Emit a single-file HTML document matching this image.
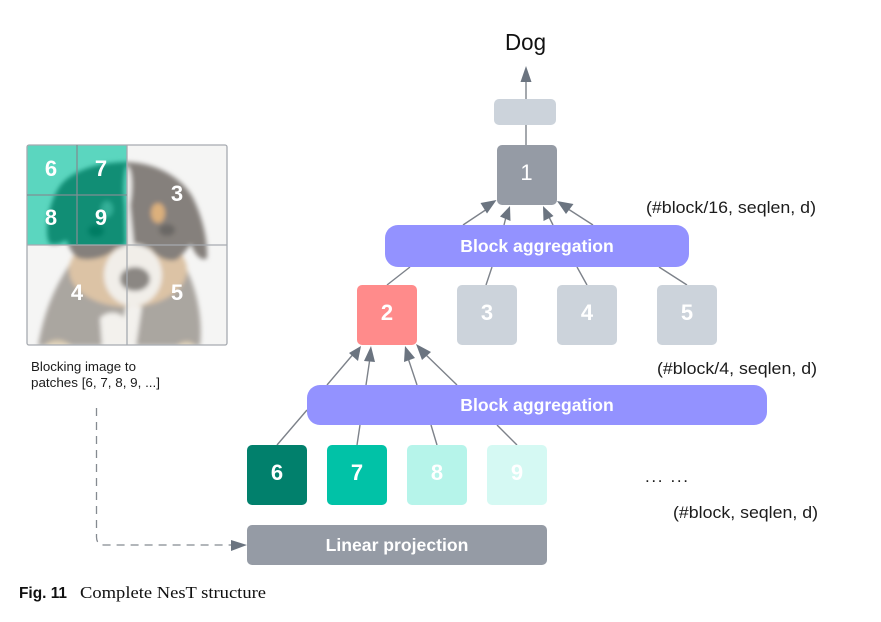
<!DOCTYPE html>
<html>
<head>
<meta charset="utf-8">
<style>
html,body{margin:0;padding:0;background:#fff;width:881px;height:622px;overflow:hidden}
svg{display:block;filter:blur(0.35px)}
text{font-family:"Liberation Sans",sans-serif}
.n{font-weight:700;font-size:22px;fill:#fff;text-anchor:middle}
.b{font-weight:700;font-size:17.6px;fill:#fff;text-anchor:middle}
.l{font-size:17px;fill:#1c1c1c}
.c{stroke:#7d828a;stroke-width:1.4;fill:none}
.h{fill:#6b7480}
</style>
</head>
<body>
<svg width="881" height="622" viewBox="0 0 881 622" xmlns="http://www.w3.org/2000/svg">
<defs>
<filter id="bl" x="-10%" y="-10%" width="120%" height="120%"><feGaussianBlur stdDeviation="2.4"/></filter>
<filter id="tl" color-interpolation-filters="sRGB">
<feColorMatrix type="matrix" values="0.66 0 0 0 -0.278  0.645 0 0 0 0.219  0.66 0 0 0 0.114  0 0 0 1 0"/>
</filter>
<clipPath id="cp"><rect x="27" y="145" width="200" height="200" rx="2"/></clipPath>
<clipPath id="tc"><rect x="27" y="145" width="100" height="100"/></clipPath>
<g id="dog">
<rect x="20" y="140" width="215" height="210" fill="#f5f5f4"/>
<g filter="url(#bl)">
<path d="M38 346 C44 312 54 288 70 264 L186 268 C197 290 203 320 200 346 Z" fill="#aaa6a0"/>
<ellipse cx="128" cy="270" rx="59" ry="37" fill="#dcc3a5"/>
<path d="M60 186 C72 170 100 162 127 162 C155 163 180 176 192 196 C202 215 208 240 207 258 C203 262 195 256 191 244 C186 250 182 256 176 260 C165 262 156 256 150 248 L116 248 C110 256 92 262 78 258 C72 254 70 248 66 240 C60 244 56 245 50 244 C44 236 47 205 60 186 Z" fill="#85807c"/>
<path d="M127 165 C133 170 133 190 130 205 L134 246 L126 246 L125 205 C123 190 124 172 127 165 Z" fill="#efeeec"/>
<ellipse cx="133" cy="275" rx="29" ry="31" fill="#f1eee9"/>
<ellipse cx="135" cy="279" rx="15" ry="12" fill="#8b8783"/>
<path d="M100 318 C108 310 120 312 124 318 L124 346 L102 346 Z" fill="#f3f1ed"/>
<path d="M118 346 L126 306 L142 306 L136 346 Z" fill="#f3f1ed"/>
<path d="M44 346 C52 338 62 338 72 346 Z" fill="#dccdb2"/>
<path d="M176 346 C184 340 190 340 196 346 Z" fill="#dccdb2"/>
<ellipse cx="158" cy="213" rx="7" ry="10" fill="#dcb07c"/>
<ellipse cx="107" cy="209" rx="6" ry="8" fill="#b9b092"/>
<ellipse cx="167" cy="230" rx="8" ry="6" fill="#6a6765"/>
<ellipse cx="96" cy="231" rx="8" ry="6" fill="#6a6765"/>
</g>
</g>
</defs>

<!-- image grid -->
<g clip-path="url(#cp)"><use href="#dog"/></g>
<g clip-path="url(#tc)"><use href="#dog" filter="url(#tl)"/></g>
<g fill="none" stroke="#a6aab0" stroke-width="1.3">
<rect x="27" y="145" width="200" height="200" rx="2"/>
<path d="M127 145V345M27 245H227"/>
</g>
<g fill="none" stroke="#7f8f93" stroke-width="1.3">
<path d="M77 145V245M27 195H127"/>
</g>
<text class="n" x="51" y="176">6</text>
<text class="n" x="101" y="176">7</text>
<text class="n" x="51" y="225">8</text>
<text class="n" x="101" y="225">9</text>
<text class="n" x="177" y="201">3</text>
<text class="n" x="77" y="300">4</text>
<text class="n" x="177" y="300">5</text>
<text x="31" y="371" font-size="12.5" fill="#1c1c1c" textLength="105" lengthAdjust="spacingAndGlyphs">Blocking image to</text>
<text x="31" y="387" font-size="12.5" fill="#1c1c1c" textLength="129" lengthAdjust="spacingAndGlyphs">patches [6, 7, 8, 9, ...]</text>

<!-- dashed -->
<path d="M96.500 408V537Q96.500 545 104.500 545H232" fill="none" stroke="#858a91" stroke-width="1.3" stroke-dasharray="8 6"/>
<path class="h" d="M247 545L231 540V551Z"/>

<!-- top connector -->
<path class="c" d="M526 145V72"/>
<path class="h" d="M526 66L520.500 82H531.500Z"/>
<text x="505" y="50" font-size="23" fill="#111" textLength="41" lengthAdjust="spacingAndGlyphs">Dog</text>
<rect x="494" y="99" width="62" height="26" rx="5" fill="#ccd3db"/>
<rect x="497" y="145" width="60" height="60" rx="5" fill="#959ba5"/>
<text x="526.500" y="180" font-size="22" fill="#fff" text-anchor="middle">1</text>

<!-- arrows into 1 -->
<path class="c" d="M463 225L490 207M504 225L507 213M553 225L547 213M593 225L565 207"/>
<path class="h" d="M496.500 200L480.500 203L487 213.500Z"/>
<path class="h" d="M510 206L500 216.500L510.500 221Z"/>
<path class="h" d="M543 206L543.500 221L553.500 216Z"/>
<path class="h" d="M557 201L566 214L573.500 204Z"/>

<!-- agg1 lower lines -->
<path class="c" d="M410 267L387 285M492 267L486 285M577 267L587 285M659 267L687 285"/>
<rect x="385" y="225" width="304" height="42" rx="13" fill="#9392ff"/>
<text class="b" x="537" y="252">Block aggregation</text>

<!-- row 2 -->
<rect x="357" y="285" width="60" height="60" rx="5" fill="#ff8b8b"/>
<rect x="457" y="285" width="60" height="60" rx="5" fill="#ccd3db"/>
<rect x="557" y="285" width="60" height="60" rx="5" fill="#ccd3db"/>
<rect x="657" y="285" width="60" height="60" rx="5" fill="#ccd3db"/>
<text class="n" x="387" y="320">2</text>
<text class="n" x="487" y="320">3</text>
<text class="n" x="587" y="320">4</text>
<text class="n" x="687" y="320">5</text>

<!-- arrows into 2 -->
<path class="c" d="M327 385L355 352M366 385L370 358M417 385L408 358M457 385L423 352"/>
<path class="h" d="M361 346L349 353L358 361Z"/>
<path class="h" d="M371 346L364 361L375 362Z"/>
<path class="h" d="M405 346L404 362L415 358Z"/>
<path class="h" d="M416 344L422 360L431 352Z"/>

<!-- agg2 lower lines -->
<path class="c" d="M307 410L277 445M360 425L357 445M431 425L437 445M497 425L517 445"/>
<rect x="307" y="385" width="460" height="40" rx="13" fill="#9392ff"/>
<text class="b" x="537" y="411">Block aggregation</text>

<!-- row 3 -->
<rect x="247" y="445" width="60" height="60" rx="5" fill="#01806c"/>
<rect x="327" y="445" width="60" height="60" rx="5" fill="#01c2a7"/>
<rect x="407" y="445" width="60" height="60" rx="5" fill="#b6f4ea"/>
<rect x="487" y="445" width="60" height="60" rx="5" fill="#d5f9f3"/>
<text class="n" x="277" y="480">6</text>
<text class="n" x="357" y="480">7</text>
<text class="n" x="437" y="480">8</text>
<text class="n" x="517" y="480">9</text>

<rect x="247" y="525" width="300" height="40" rx="5" fill="#959ba5"/>
<text class="b" x="397" y="551">Linear projection</text>

<!-- right labels -->
<text class="l" x="646" y="213" textLength="170" lengthAdjust="spacingAndGlyphs">(#block/16, seqlen, d)</text>
<text class="l" x="657" y="374" textLength="160" lengthAdjust="spacingAndGlyphs">(#block/4, seqlen, d)</text>
<text class="l" x="673" y="518" textLength="145" lengthAdjust="spacingAndGlyphs">(#block, seqlen, d)</text>
<text class="l" x="645" y="482" textLength="43">... ...</text>

<!-- caption -->
<text x="19" y="598" font-size="16" font-weight="700" fill="#111" textLength="48" lengthAdjust="spacingAndGlyphs">Fig. 11</text>
<text x="80" y="598" font-size="17" fill="#111" style="font-family:'Liberation Serif',serif" textLength="186" lengthAdjust="spacingAndGlyphs">Complete NesT structure</text>
</svg>
</body>
</html>
